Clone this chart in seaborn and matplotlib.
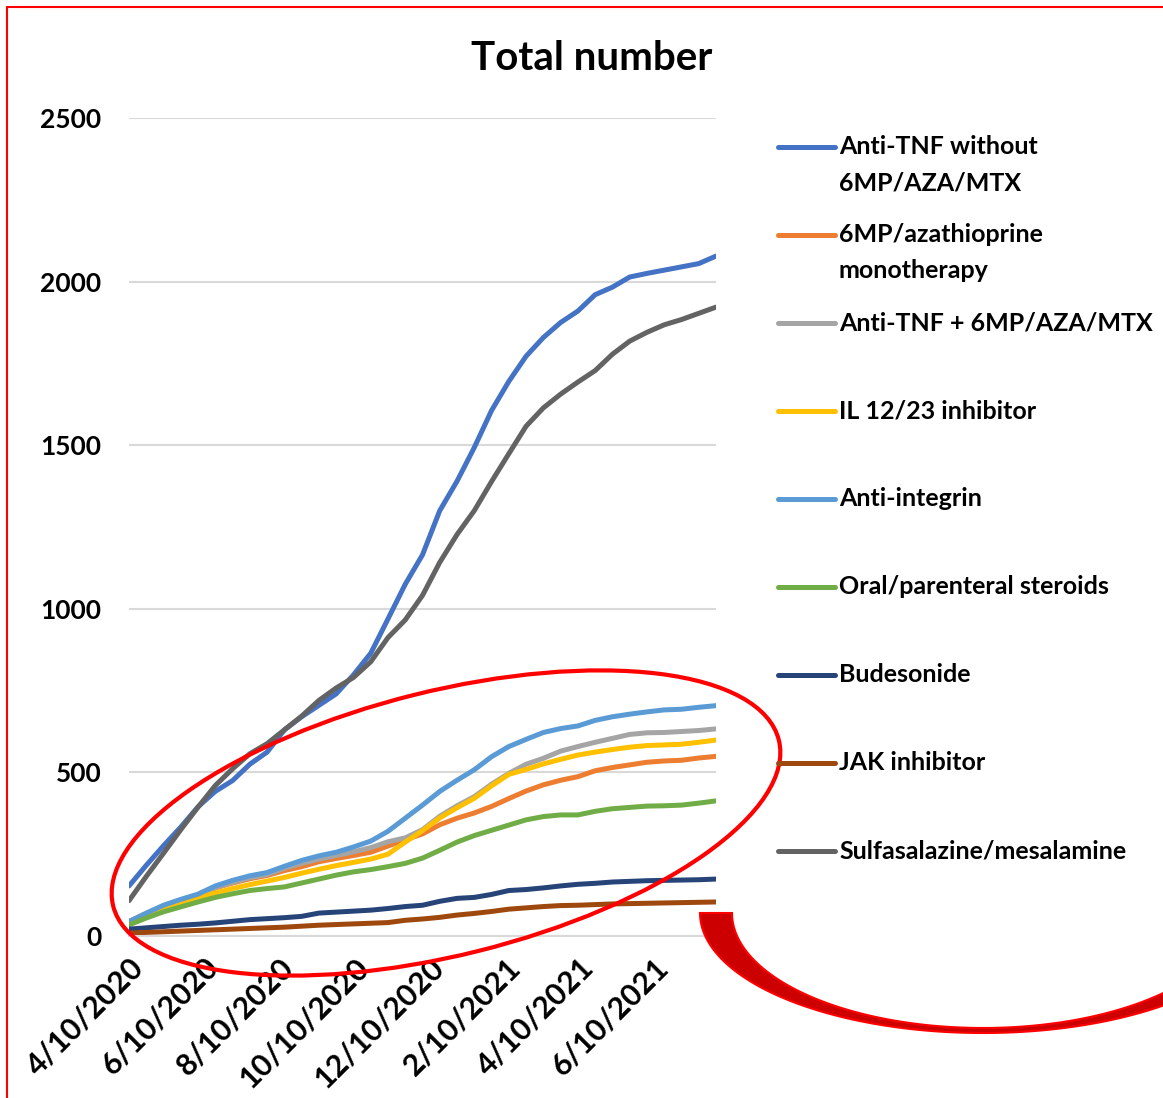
import numpy as np
import pandas as pd
import matplotlib
matplotlib.use("Agg")
import matplotlib.pyplot as plt
from matplotlib.patches import Ellipse, Polygon
import seaborn as sns

sns.set_style("white")
plt.rcParams['font.family'] = ['Lato', 'DejaVu Sans']
plt.rcParams['text.color'] = 'black'
plt.rcParams['xtick.color'] = 'black'
plt.rcParams['ytick.color'] = 'black'

# biweekly cumulative counts
dates = pd.date_range("2020-04-10", periods=35, freq="14D")

anti_tnf = [153, 216, 276, 333, 395, 442, 475, 525, 562, 630, 670, 705, 740, 798, 864, 969, 1075, 1165,
            1300, 1390, 1493, 1606, 1695, 1772, 1829, 1875, 1910, 1960, 1983, 2014, 2025, 2035, 2045, 2055, 2078]
mp6_mono = [44, 68, 92, 110, 125, 147, 162, 175, 185, 200, 212, 227, 237, 246, 256, 275, 294, 312,
            340, 360, 376, 396, 420, 443, 462, 476, 487, 505, 515, 523, 531, 535, 537, 544, 549]
anti_tnf_combo = [44, 68, 92, 110, 125, 148, 164, 178, 188, 207, 222, 235, 246, 257, 270, 288, 300, 325,
                  366, 398, 426, 464, 497, 525, 543, 565, 579, 592, 604, 616, 621, 622, 625, 628, 633]
il_1223 = [40, 62, 85, 103, 118, 131, 145, 157, 168, 179, 192, 204, 215, 225, 235, 250, 287, 322,
           361, 392, 421, 459, 494, 509, 526, 540, 553, 562, 570, 577, 582, 584, 586, 592, 599]
anti_integrin = [44, 70, 94, 112, 128, 153, 170, 184, 194, 213, 231, 245, 256, 272, 290, 320, 360, 400,
                 442, 476, 508, 548, 579, 601, 622, 634, 642, 659, 670, 678, 685, 691, 693, 699, 704]
steroids = [34, 55, 74, 89, 104, 118, 129, 139, 145, 150, 162, 174, 186, 196, 203, 212, 222, 238,
            262, 287, 307, 323, 339, 355, 365, 370, 370, 381, 389, 393, 397, 398, 400, 406, 413]
budesonide = [21, 25, 29, 33, 36, 40, 45, 50, 53, 56, 60, 70, 73, 76, 79, 84, 90, 94,
              106, 115, 118, 127, 139, 142, 147, 153, 158, 161, 165, 167, 169, 170, 171, 172, 174]
jak = [9, 11, 13, 15, 17, 19, 21, 23, 25, 27, 30, 33, 35, 37, 39, 41, 48, 52,
       57, 64, 69, 75, 82, 86, 90, 93, 94, 96, 98, 99, 100, 101, 102, 103, 104]
sulfa = [108, 182, 253, 325, 394, 460, 511, 557, 588, 630, 672, 720, 758, 790, 838, 912, 966, 1041,
         1142, 1227, 1300, 1389, 1474, 1558, 1614, 1656, 1693, 1728, 1778, 1818, 1845, 1868, 1884, 1903, 1922]

series_names = ["Anti-TNF without\n6MP/AZA/MTX", "6MP/azathioprine\nmonotherapy", "Anti-TNF + 6MP/AZA/MTX",
                "IL 12/23 inhibitor", "Anti-integrin", "Oral/parenteral steroids", "Budesonide",
                "JAK inhibitor", "Sulfasalazine/mesalamine"]
series_values = [anti_tnf, mp6_mono, anti_tnf_combo, il_1223, anti_integrin, steroids, budesonide, jak, sulfa]
colors = ["#4472C4", "#ED7D31", "#A5A5A5", "#FFC000", "#5B9BD5", "#70AD47", "#264478", "#9E480E", "#636363"]

tick_dates = pd.to_datetime(["2020-04-10", "2020-06-10", "2020-08-10", "2020-10-10", "2020-12-10",
                             "2021-02-10", "2021-04-10", "2021-06-10"])

df = pd.concat([pd.DataFrame({"date": dates, "count": vals, "series": name})
                for name, vals in zip(series_names, series_values)], ignore_index=True)

W, H = 1163, 1098
fig = plt.figure(figsize=(W / 100, H / 100), dpi=100)
ax = fig.add_axes([129 / W, 1 - 936 / H, (716 - 129) / W, (936 - 118) / H])

sns.lineplot(data=df, x="date", y="count", hue="series", hue_order=series_names,
             palette=dict(zip(series_names, colors)), linewidth=3.6, legend=False, ax=ax)

ax.set_ylim(0, 2500)
ax.set_yticks(range(0, 2501, 500))
ax.set_xlim(dates[0], dates[-1])
ax.grid(axis="y", color="#D9D9D9", linewidth=1.5)
ax.grid(axis="x", visible=False)
for s in ["left", "right", "top"]:
    ax.spines[s].set_visible(False)
ax.spines["bottom"].set_color("#D9D9D9")
ax.spines["bottom"].set_linewidth(1.5)
ax.set_xlabel("")
ax.set_ylabel("")

ax.set_xticks(tick_dates)
ax.set_xticklabels([f"{d.month}/{d.day}/{d.year}" for d in tick_dates], rotation=45, ha="right",
                   rotation_mode="anchor", fontsize=22, fontweight="bold")
ax.tick_params(axis="x", length=7, width=1.5, color="#D9D9D9", labelcolor="black", direction="out", pad=5)
ax.tick_params(axis="y", length=0, pad=20, labelsize=19)
for lbl in ax.get_yticklabels():
    lbl.set_fontweight("bold")

fig.text(592 / W, 1 - 58 / H, "Total number", ha="center", va="center", fontsize=29, fontweight="bold")

# overlay in pixel coordinates for the legend and the annotations
ov = fig.add_axes([0, 0, 1, 1], zorder=5)
ov.set_xlim(0, W)
ov.set_ylim(H, 0)
ov.axis("off")
ov.patch.set_alpha(0)

for i, (name, col) in enumerate(zip(series_names, colors)):
    y0 = 147 + i * 88
    ov.plot([778, 835], [y0, y0], color=col, linewidth=3.6, solid_capstyle="round")
    for j, part in enumerate(name.split("\n")):
        ov.text(839, y0 + j * 36, part, va="center", ha="left", fontsize=18, fontweight="bold")

ov.add_patch(Ellipse((446, 823), 686, 264, angle=-14, fill=False, edgecolor="#FF0000", linewidth=3))

t = np.linspace(np.pi, 0.25, 120)
outer = np.column_stack([983 + 283 * np.cos(t), 913 + 120 * np.sin(t)])
inner = np.column_stack([983 + 251 * np.cos(t), 913 + 115 * np.sin(t)])[::-1]
ov.add_patch(Polygon(np.vstack([outer, inner]), closed=True, facecolor="#CC0000",
                     edgecolor="#FF0000", linewidth=1.5))

ov.plot([7, 7], [H, 7], color="#FF0000", linewidth=1.5)
ov.plot([7, W], [7, 7], color="#FF0000", linewidth=1.5)

fig.savefig("out.png", dpi=100)
